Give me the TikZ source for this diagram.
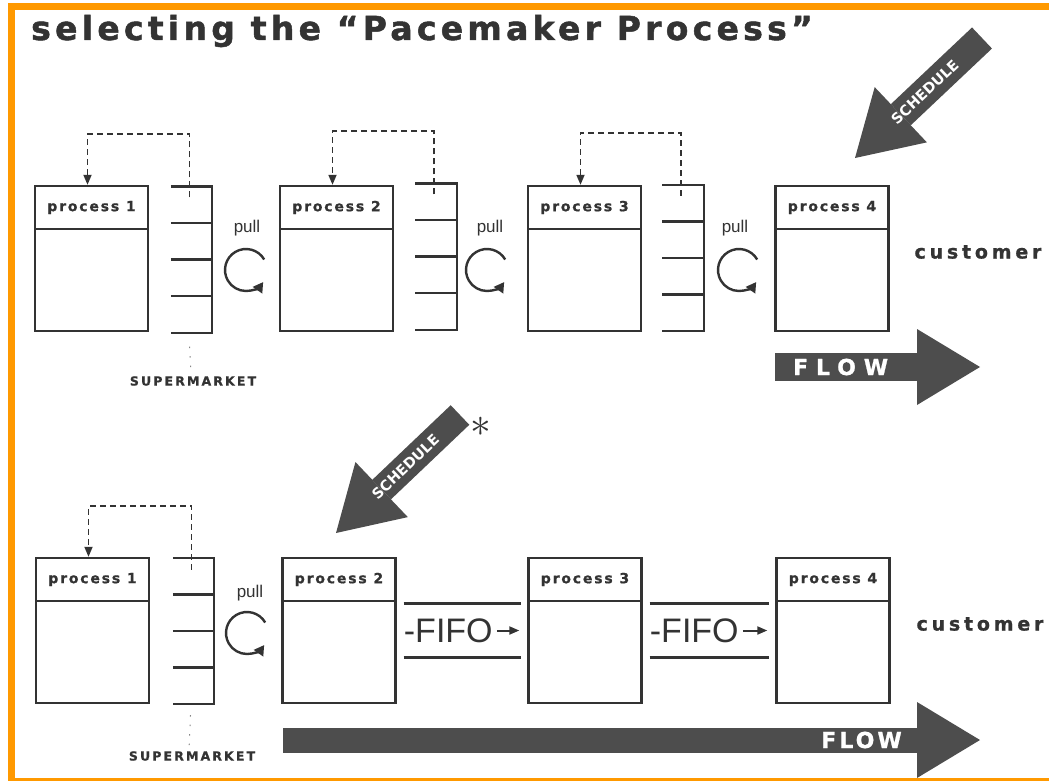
\documentclass[tikz,border=0pt]{standalone}
\usepackage{fontspec}
\setmainfont{Liberation Sans}
\newfontfamily\heavyfont{DejaVu Sans}
\usetikzlibrary{arrows.meta, positioning, calc}
\definecolor{cframe}{HTML}{FF9900}
\definecolor{cink}{HTML}{333333}
\definecolor{carrow}{HTML}{4D4D4D}
\tikzset{
  every picture/.style={line width=2.4pt, color=cink},
  title/.style={font=\heavyfont\bfseries\fontsize{33}{33}\selectfont\addfontfeatures{LetterSpace=13, FakeBold=1.5}, inner sep=0pt},
  procbox/.style={draw, minimum width=113pt, minimum height=145pt, inner sep=0pt},
  prochead/.style={draw, anchor=north, minimum width=113pt, minimum height=43pt, inner sep=0pt,
    font=\heavyfont\bfseries\fontsize{14}{14}\selectfont\addfontfeatures{LetterSpace=13, FakeBold=1}},
  market/.style={minimum width=39pt, minimum height=144pt, inner sep=0pt},
  shelf/.style={line width=2.4pt},
  kanban/.style={line width=1.7pt, dash pattern=on 6pt off 4pt, -{Triangle[length=10pt, width=8pt]}},
  feeler/.style={line width=1pt, dash pattern=on 1.5pt off 8pt, cink!60},
  pulltext/.style={font=\fontsize{17}{17}\selectfont, inner sep=0pt},
  pullarrow/.style={line width=2.4pt, -{Triangle[length=10pt, width=11pt]}},
  customer/.style={font=\heavyfont\bfseries\fontsize{19}{19}\selectfont\addfontfeatures{LetterSpace=20, FakeBold=1}, inner sep=0pt},
  marklabel/.style={font=\heavyfont\bfseries\fontsize{12.5}{12.5}\selectfont\addfontfeatures{LetterSpace=17, FakeBold=0.8}, inner sep=0pt},
  bigarrow/.style={carrow, line width=#1, -{Triangle[length=63pt, width=76pt, line width=0pt]}},
  schedtext/.style={text=white, font=\heavyfont\bfseries\fontsize{14.5}{14.5}\selectfont, inner sep=0pt},
  flowtext/.style={text=white, font=\heavyfont\bfseries\fontsize{22}{22}\selectfont\addfontfeatures{LetterSpace=#1, FakeBold=1}, inner sep=0pt},
  flowtext/.default=36,
  lane/.style={line width=2.6pt},
  fifo/.style={font=\fontsize{34}{34}\selectfont, inner sep=0pt, anchor=west},
  fifoarrow/.style={line width=2pt, -{Triangle[length=10pt, width=8pt]}},
}
\begin{document}
\begin{tikzpicture}[x=1pt, y=-1pt]
  \useasboundingbox (0,0) rectangle (1049,784);
  \fill[cframe] (8,3) rectangle (1049,10);
  \fill[cframe] (8,3) rectangle (15,781);
  \fill[cframe] (8,778) rectangle (1049,781);
  \node[title, anchor=base west] (head) at (30,40) {selecting the “Pacemaker Process”};

  % upper line: supermarkets everywhere
  \foreach \n/\x in {1/91.5, 2/336.5, 3/584.5, 4/832} {
    \node[procbox] (t\n) at (\x,258.5) {};
    \node[prochead] (t\n h) at (t\n.north) {process \n};
  }
  \foreach \n/\x/\y in {1/191.5/259.5, 2/436/256.5, 3/683/258} {
    \node[market] (tm\n) at (\x,\y) {};
    \draw[shelf] (tm\n.north west) -- (tm\n.north east) -- (tm\n.south east) -- (tm\n.south west);
    \foreach \f in {0.25,0.5,0.75}
      \draw[shelf] ($(tm\n.north west)!\f!(tm\n.south west)$) -- ($(tm\n.north east)!\f!(tm\n.south east)$);
    \draw[kanban] ([xshift=-2pt,yshift=-11pt]tm\n.north) -- ++(0,-63) -| ([xshift=-4pt]t\n.north);
  }
  \foreach \n/\x/\xt in {1/246/247, 2/487/490, 3/739/735} {
    \node[pulltext] (tp\n) at (\xt,228) {pull};
    \coordinate (tc\n) at (\x,270);
    \draw[pullarrow] (tc\n) ++(330:21) arc[start angle=330, end angle=35, radius=21];
  }
  \node[marklabel] (tml) at (193,381) {SUPERMARKET};
  \draw[feeler] ([xshift=-2pt,yshift=-14pt]tm1.south) -- ([xshift=-2pt]tml.north);
  \node[customer] (tcust) at (978,252) {customer};
  \coordinate (ts0) at (982,38);
  \coordinate (ts1) at (855,158);
  \draw[bigarrow=29pt] (ts0) -- node[sloped, pos=0.45, schedtext] (tsched) {SCHEDULE} (ts1);
  \coordinate (tf0) at (775,367);
  \coordinate (tf1) at (980,367);
  \draw[bigarrow=28pt] (tf0) -- node[pos=0.32, flowtext] (tflow) {FLOW} (tf1);

  % lower line: pacemaker at process 2, FIFO downstream
  \foreach \n/\x in {1/92.5, 2/339, 3/585, 4/833} {
    \node[procbox] (b\n) at (\x,630.5) {};
    \node[prochead] (b\n h) at (b\n.north) {process \n};
  }
  \node[market] (bm1) at (193.5,631) {};
  \draw[shelf] (bm1.north west) -- (bm1.north east) -- (bm1.south east) -- (bm1.south west);
  \foreach \f in {0.25,0.5,0.75}
    \draw[shelf] ($(bm1.north west)!\f!(bm1.south west)$) -- ($(bm1.north east)!\f!(bm1.south east)$);
  \draw[kanban] ([xshift=-2pt,yshift=-12pt]bm1.north) -- ++(0,-64) -| ([xshift=-4pt]b1.north);
  \node[pulltext] (bp1) at (250,593) {pull};
  \coordinate (bc1) at (247,633);
  \draw[pullarrow] (bc1) ++(330:21) arc[start angle=330, end angle=35, radius=21];
  \node[marklabel] (bml) at (192,756) {SUPERMARKET};
  \draw[feeler] ([xshift=-3pt,yshift=-11pt]bm1.south) -- ([xshift=-3pt]bml.north);
  \foreach \a/\b [count=\k] in {b2/b3, b3/b4} {
    \draw[lane] ([xshift=7pt,yshift=27pt]\a.east) -- ([xshift=-6pt,yshift=27pt]\b.west);
    \draw[lane] ([xshift=7pt,yshift=-27pt]\a.east) -- ([xshift=-6pt,yshift=-27pt]\b.west);
    \node[fifo] (fifo\k) at ([xshift=6pt]\a.east) {-FIFO};
    \draw[fifoarrow] ([xshift=3pt]fifo\k.east) -- ([xshift=-8pt]\b.west);
  }
  \node[customer] (bcust) at (980,624) {customer};
  \coordinate (bs0) at (460,415);
  \coordinate (bs1) at (336,533);
  \draw[bigarrow=27pt] (bs0) -- node[sloped, pos=0.44, schedtext] (bsched) {SCHEDULE} (bs1);
  \node[font=\fontsize{20}{20}\selectfont, scale=2, inner sep=0pt] (star) at (481,427) {$\ast$};
  \coordinate (bf0) at (283,740);
  \coordinate (bf1) at (980,740);
  \draw[bigarrow=25pt] (bf0) -- node[pos=0.83, flowtext=14] (bflow) {FLOW} (bf1);
\end{tikzpicture}
\end{document}
